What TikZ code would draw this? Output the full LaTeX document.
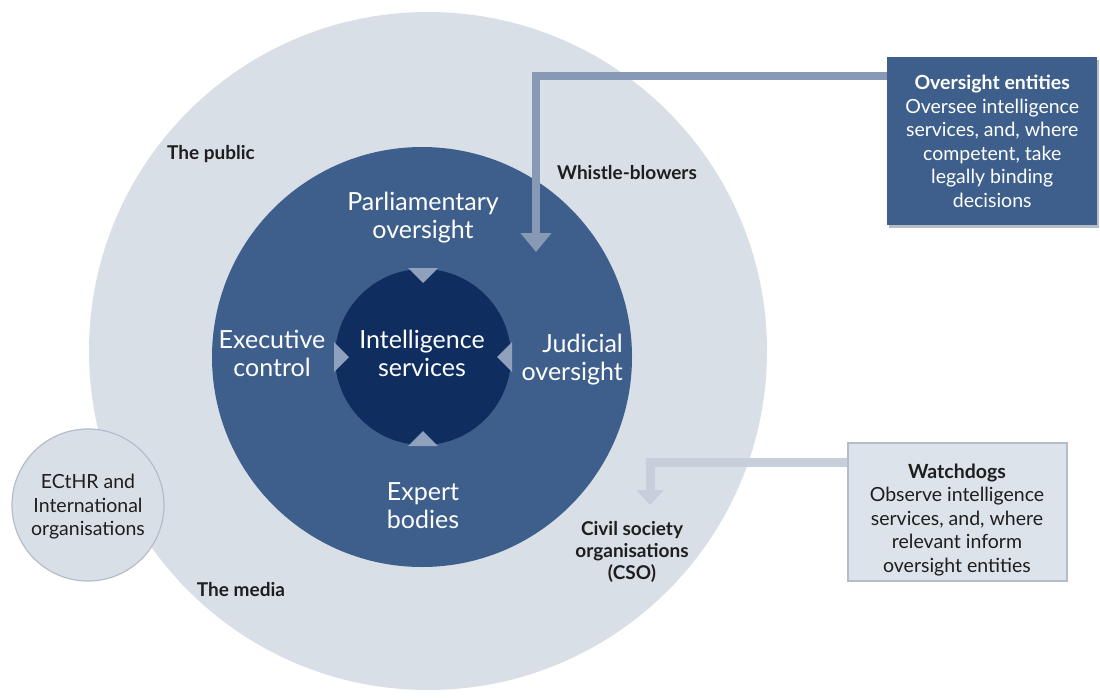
\documentclass[tikz,border=0pt]{standalone}
\usepackage{fontspec}
\setmainfont{Lato}
\usetikzlibrary{arrows.meta}
\definecolor{outerc}{HTML}{D9DFE7}
\definecolor{midc}{HTML}{3E5F8B}
\definecolor{innerc}{HTML}{0F2D5E}
\definecolor{notchc}{HTML}{8FA1BC}
\definecolor{toparr}{HTML}{8799B5}
\definecolor{botarr}{HTML}{C6CFDB}
\definecolor{boxlight}{HTML}{DDE3EA}
\definecolor{boxborder}{HTML}{B3BDCA}
\definecolor{shadowc}{HTML}{B5BDC8}
\definecolor{txtc}{HTML}{1E1E1E}
\begin{document}
\begin{tikzpicture}[x=1pt,y=-1pt,
  disc/.style={circle,inner sep=0pt,draw=none},
  whitelbl/.style={text=white,align=center,font=\fontsize{25}{28}\selectfont,inner sep=0pt},
  blacklbl/.style={text=txtc,align=center,font=\bfseries\fontsize{19}{22}\selectfont,inner sep=0pt},
  boxtxt/.style={align=center,font=\fontsize{19.5}{23.5}\selectfont,inner sep=0pt},
  notch/.style={fill=notchc},
  darkarrow/.style={draw=toparr,line width=8pt,line join=miter,-{Triangle[length=19pt,width=30pt]}},
  lightarrow/.style={draw=botarr,line width=9pt,line join=miter,-{Triangle[length=15pt,width=27pt]}}
]
\useasboundingbox (0,0) rectangle (1100,699);
\fill[white] (0,0) rectangle (1100,699);

% circles
\node[disc,fill=outerc,minimum size=678pt] (outer) at (428,351) {};
\node[disc,fill=midc,minimum size=420pt] (mid) at (422,357) {};
\node[disc,fill=innerc,minimum size=176pt] (inner) at (423,357) {};

% notches
\fill[notch] (408,268) -- (438,268) -- (423,283) -- cycle;
\fill[notch] (408,446) -- (438,446) -- (423,431) -- cycle;
\fill[notch] (334,342) -- (334,372) -- (349,357) -- cycle;
\fill[notch] (512,342) -- (512,372) -- (497,357) -- cycle;

% ECtHR circle
\node[circle,inner sep=0pt,minimum size=152pt,fill=outerc,draw=boxborder,line width=1.2pt] (echr) at (88,505) {};
\node[boxtxt,text=txtc] (echrt) at (88,507) {ECtHR and\\International\\organisations};

% white labels
\node[whitelbl] (parl) at (423,218) {Parliamentary\\oversight};
\node[whitelbl] (exec) at (272,353) {Executive\\control};
\node[whitelbl] (intel) at (422,353) {Intelligence\\services};
\node[whitelbl,align=right,anchor=east] (jud) at (623,360) {Judicial\\oversight};
\node[whitelbl] (expert) at (423,506) {Expert\\bodies};

% black labels
\node[blacklbl] (public) at (211,154) {The public};
\node[blacklbl] (whistle) at (627,173) {Whistle-blowers};
\node[blacklbl] (media) at (241,590) {The media};
\node[blacklbl] (cso) at (632,552) {Civil society\\organisations\\(CSO)};

% oversight box
\fill[shadowc] (889,60) rectangle (1099,228);
\node[fill=midc,minimum width=210pt,minimum height=168pt,anchor=north west,inner sep=0pt] (obox) at (887,57) {};
\node[boxtxt,text=white] (oboxt) at (obox.center) {\textbf{Oversight entities}\\Oversee intelligence\\services, and, where\\competent, take\\legally binding\\decisions};

% watchdog box
\node[fill=boxlight,draw=boxborder,line width=1.5pt,minimum width=219pt,minimum height=138pt,anchor=north west,inner sep=0pt] (wbox) at (847,442) {};
\node[boxtxt,text=txtc] (wboxt) at (957,520) {\textbf{Watchdogs}\\Observe intelligence\\services, and, where\\relevant inform\\oversight entities};

% connectors
\coordinate (c1) at (536,76);
\coordinate (t1) at (536,252);
\draw[darkarrow] (obox.west |- c1) -- (c1) -- (t1);
\coordinate (c2) at (650,462);
\coordinate (t2) at (650,505);
\draw[lightarrow] (wbox.west |- c2) -- (c2) -- (t2);
\end{tikzpicture}
\end{document}
